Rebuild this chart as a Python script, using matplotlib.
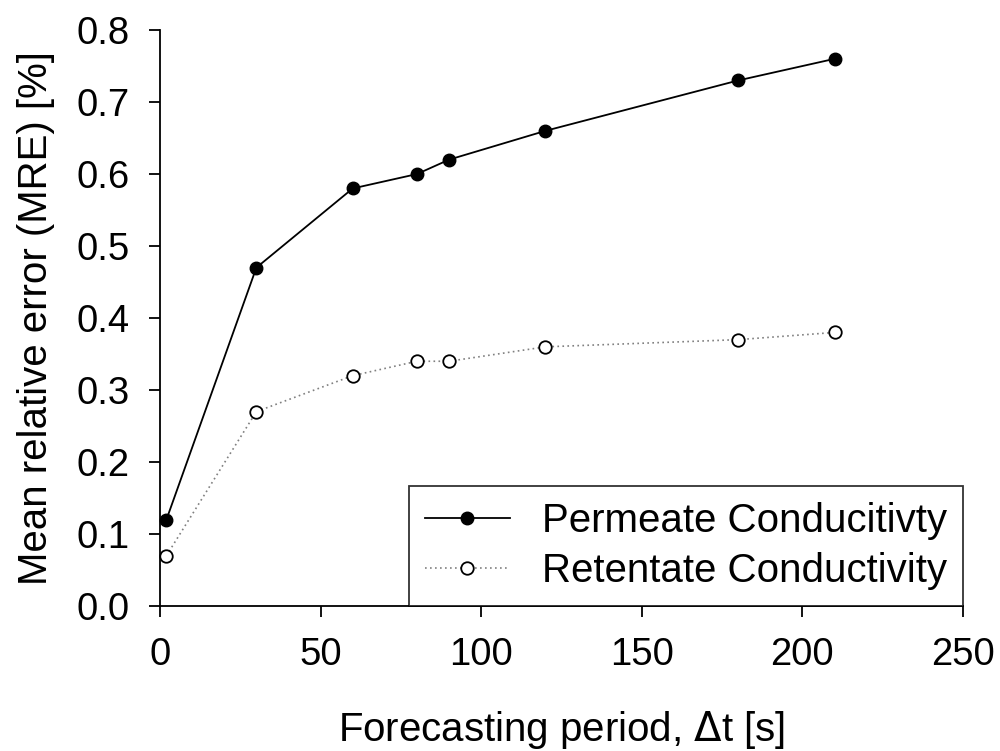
import matplotlib
matplotlib.use("Agg")
import matplotlib.pyplot as plt

plt.rcParams['font.family'] = ['Liberation Sans', 'DejaVu Sans']

# forecasting period [s]
period = [2, 30, 60, 80, 90, 120, 180, 210]
# mean relative error [%]
permeate = [0.12, 0.47, 0.58, 0.60, 0.62, 0.66, 0.73, 0.76]
retentate = [0.07, 0.27, 0.32, 0.34, 0.34, 0.36, 0.37, 0.38]

xticks = [0, 50, 100, 150, 200, 250]
yticks = [0.0, 0.1, 0.2, 0.3, 0.4, 0.5, 0.6, 0.7, 0.8]

tick_fs = 27.5
label_fs = 29

fig = plt.figure(figsize=(10, 7.51), dpi=100)
ax = fig.add_axes([0.16, 0.193, 0.803, 0.767])

ax.plot(period, permeate, color='black', lw=1.3, marker='o', ms=9,
        mfc='black', mec='black', label='Permeate Conducitivty', clip_on=False, zorder=3)
ax.plot(period, retentate, color='#808080', lw=1.2, ls=(0, (1, 2)), marker='o', ms=9,
        mfc='white', mec='black', mew=1.3, label='Retentate Conductivity', clip_on=False, zorder=3)

ax.set_xlim(0, 250)
ax.set_ylim(0, 0.8)
ax.set_xticks(xticks)
ax.set_yticks(yticks)
ax.set_yticklabels([f'{v:.1f}' for v in yticks])
for s in ['top', 'right']:
    ax.spines[s].set_visible(False)
for s in ['left', 'bottom']:
    ax.spines[s].set_linewidth(1.3)
ax.tick_params(direction='out', length=8, width=1.3, labelsize=tick_fs, pad=14)

ax.set_xlabel('Forecasting period, $\\Delta$t [s]', fontsize=label_fs, labelpad=26)
ax.set_ylabel('Mean relative error (MRE) [%]', fontsize=label_fs, labelpad=15)

leg = ax.legend(loc='lower right', fontsize=label_fs, frameon=True, fancybox=False,
                edgecolor='black', borderaxespad=0, handlelength=2.1, handletextpad=0.8,
                borderpad=0.4, labelspacing=0.3)
leg.get_frame().set_linewidth(1.3)
leg.set_zorder(5)

fig.savefig('out.png', dpi=100)
